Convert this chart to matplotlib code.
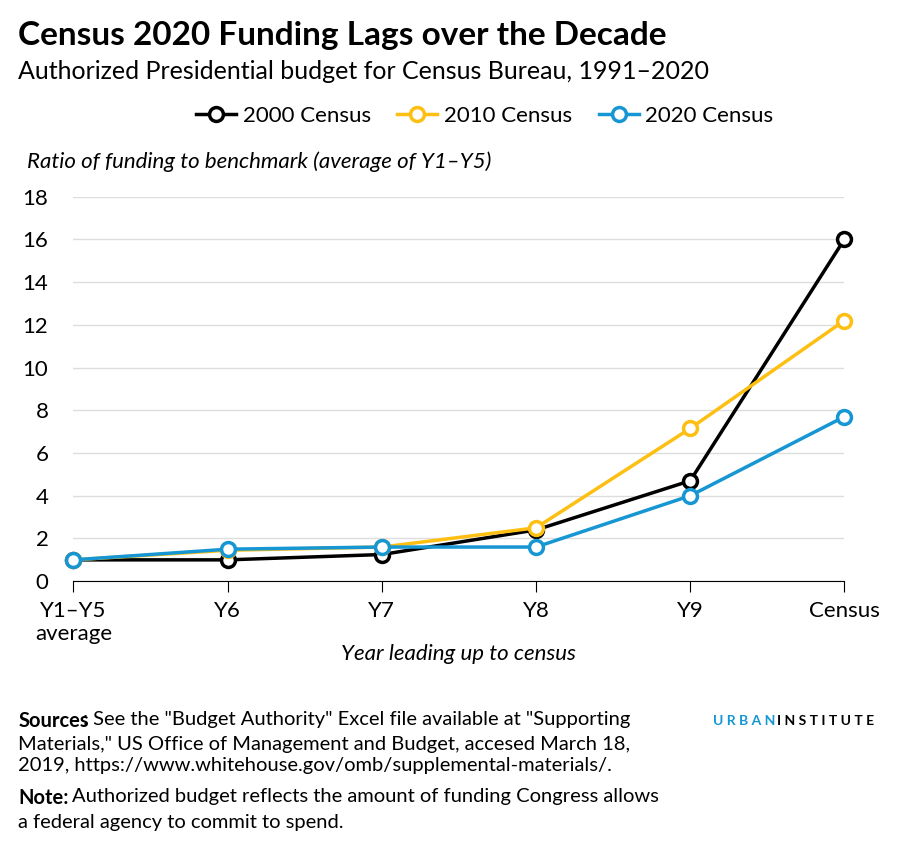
import matplotlib
matplotlib.use("Agg")
import matplotlib.pyplot as plt

plt.rcParams["font.family"] = ["Lato", "DejaVu Sans"]

# =====================================================
# DATA
# =====================================================
categories = ["Y1–Y5\naverage", "Y6", "Y7", "Y8", "Y9", "Census"]
census_2000 = [1.0, 1.0, 1.25, 2.4, 4.7, 16.0]
census_2010 = [1.0, 1.45, 1.6, 2.5, 7.15, 12.2]
census_2020 = [1.0, 1.5, 1.6, 1.6, 4.0, 7.7]

series = [
    ("2000 Census", census_2000, "#000000"),
    ("2010 Census", census_2010, "#fdbf11"),
    ("2020 Census", census_2020, "#1696d2"),
]

# =====================================================
# FIGURE
# =====================================================
fig = plt.figure(figsize=(9.06, 8.51), dpi=100)
ax = fig.add_axes([0.081, 0.317, 0.851, 0.452])

x = list(range(len(categories)))
for label, vals, color in series:
    ax.plot(x, vals, color=color, lw=2.5, marker="o", ms=10,
            markerfacecolor="white", markeredgewidth=2.5, label=label,
            clip_on=False, zorder=3)

ax.set_ylim(0, 18)
ax.set_yticks(range(0, 19, 2))
ax.set_xlim(0, 5)
ax.set_xticks(x)
ax.set_xticklabels(categories, fontsize=16)
ax.tick_params(axis="y", labelsize=16, length=0, pad=18)
ax.tick_params(axis="x", length=8, color="black", pad=6)
ax.grid(axis="y", color="#dedddd", lw=1)
ax.set_axisbelow(True)
for s in ["top", "right", "left"]:
    ax.spines[s].set_visible(False)
ax.spines["bottom"].set_color("black")
ax.set_xlabel("Year leading up to census", fontsize=16, style="italic", labelpad=0)

# =====================================================
# TEXT
# =====================================================
fig.text(0.02, 0.975, "Census 2020 Funding Lags over the Decade",
         fontsize=24, fontweight="bold", va="top")
fig.text(0.02, 0.93, "Authorized Presidential budget for Census Bureau, 1991–2020",
         fontsize=18, va="top")
fig.text(0.03, 0.81, "Ratio of funding to benchmark (average of Y1–Y5)",
         fontsize=16, style="italic", va="center")

fig.legend(loc="center", bbox_to_anchor=(0.535, 0.864), ncol=3, frameon=False,
           fontsize=16, handlelength=1.8, columnspacing=1.2, handletextpad=0.3)

fs = 14.5
fig.text(0.02, 0.165, "Sources", fontsize=fs, fontweight="bold", va="top")
fig.text(0.092, 0.165, ': See the "Budget Authority" Excel file available at "Supporting',
         fontsize=fs, va="top")
fig.text(0.02, 0.135,
         'Materials," US Office of Management and Budget, accesed March 18,'
         "\n2019, https://www.whitehouse.gov/omb/supplemental-materials/.",
         fontsize=fs, va="top", linespacing=1.25)
fig.text(0.02, 0.074, "Note:", fontsize=fs, fontweight="bold", va="top")
fig.text(0.08, 0.074, "Authorized budget reflects the amount of funding Congress allows",
         fontsize=fs, va="top")
fig.text(0.02, 0.044, "a federal agency to commit to spend.", fontsize=fs, va="top")

fig.text(0.787, 0.153, "U R B A N", fontsize=10, fontweight="bold", color="#1696d2",
         va="center")
fig.text(0.858, 0.153, "I N S T I T U T E", fontsize=10, fontweight="bold",
         color="black", va="center")

fig.savefig("out.png", dpi=100)
